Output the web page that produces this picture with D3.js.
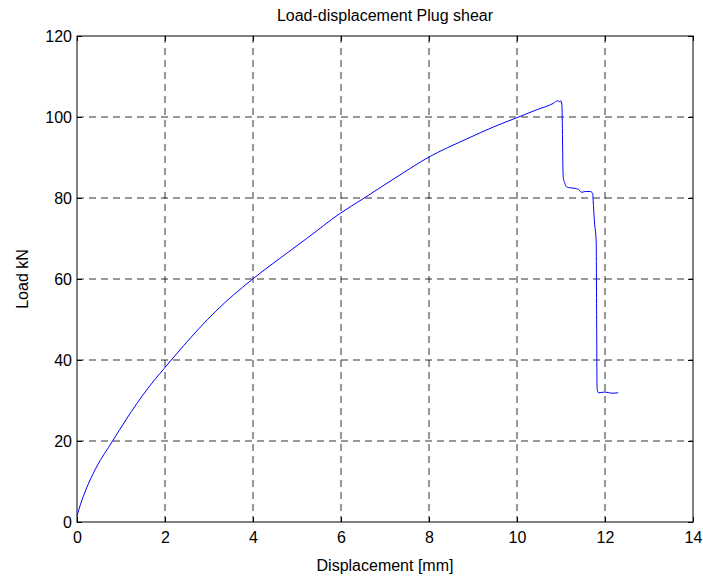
<!DOCTYPE html>
<html>
<head>
<meta charset="utf-8">
<script src="https://cdn.jsdelivr.net/npm/d3@7"></script>
<style>
  body { margin: 0; background: #fff; }
  svg text { font-family: "Liberation Sans", Arial, sans-serif; fill: #000; }
  .grid line { stroke: #000; stroke-width: 1; stroke-dasharray: 7,5; opacity: 0.8; }
</style>
</head>
<body>
<svg width="703" height="576"></svg>
<script>
// displacement [mm] and load [kN]
const displacement = [0, 0.04, 0.2, 0.43, 0.81, 1.11, 1.61, 1.98, 2.42, 3.14, 3.97, 4.61, 5.22,
  5.98, 6.5, 7.34, 7.98, 8.86, 9.5, 9.99, 10.45, 10.83, 10.92, 10.97, 11.0, 11.02, 11.05,
  11.09, 11.12, 11.17, 11.3, 11.4, 11.47, 11.55, 11.66, 11.72, 11.73, 11.76, 11.8, 11.81,
  11.82, 11.85, 12.0, 12.15, 12.3];
const load = [1.5, 3, 7.9, 13.3, 20, 25.2, 33, 37.9, 43.5, 51.9, 59.8, 65.1, 70.0,
  76.2, 79.8, 85.7, 90.0, 94.6, 97.7, 99.8, 101.8, 103.4, 104, 103.8, 104, 103, 85.3,
  83.5, 82.8, 82.6, 82.4, 82.1, 81.4, 81.6, 81.6, 81.2, 79.5, 74.1, 69.2, 50,
  33, 31.9, 32.1, 31.8, 31.9];

const xTicks = [0, 2, 4, 6, 8, 10, 12, 14];
const yTicks = [0, 20, 40, 60, 80, 100, 120];

const margin = { left: 77, right: 10, top: 36, bottom: 54 };
const svg = d3.select("svg");
const width = 703 - margin.left - margin.right;
const height = 576 - margin.top - margin.bottom;

const x = d3.scaleLinear().domain([0, 14]).range([0, width]);
const y = d3.scaleLinear().domain([0, 120]).range([height, 0]);

const g = svg.append("g").attr("transform", `translate(${margin.left},${margin.top})`);

// dashed grid
const grid = g.append("g").attr("class", "grid");
grid.selectAll(".vx")
  .data(xTicks.slice(1, -1))
  .enter()
  .append("line")
  .attr("x1", d => x(d)).attr("x2", d => x(d))
  .attr("y1", 0).attr("y2", height);
grid.selectAll(".hy")
  .data(yTicks.slice(1, -1))
  .enter()
  .append("line")
  .attr("x1", 0).attr("x2", width)
  .attr("y1", d => y(d)).attr("y2", d => y(d));

// axes with inward ticks
const fmt = d3.format("d");
g.append("g").attr("transform", `translate(0,${height})`)
  .call(d3.axisBottom(x).tickValues(xTicks).tickFormat(fmt).tickSizeInner(-5).tickSizeOuter(0).tickPadding(10));
g.append("g")
  .call(d3.axisLeft(y).tickValues(yTicks).tickFormat(fmt).tickSizeInner(-5).tickSizeOuter(0).tickPadding(5));
g.append("g")
  .call(d3.axisTop(x).tickValues(xTicks).tickFormat("").tickSizeInner(-5).tickSizeOuter(0));
g.append("g").attr("transform", `translate(${width},0)`)
  .call(d3.axisRight(y).tickValues(yTicks).tickFormat("").tickSizeInner(-5).tickSizeOuter(0));
g.selectAll(".domain").remove();
g.selectAll(".tick line").attr("stroke", "#000");
g.selectAll(".tick text").attr("font-size", 16).attr("fill", "#000");

g.append("rect")
  .attr("width", width).attr("height", height)
  .attr("fill", "none").attr("stroke", "#000").attr("stroke-width", 1);

// data line
const line = d3.line()
  .x((d, i) => x(displacement[i]))
  .y(d => y(d))
  .curve(d3.curveMonotoneX);
g.append("path")
  .datum(load)
  .attr("d", line)
  .attr("fill", "none")
  .attr("stroke", "#0000ff")
  .attr("stroke-width", 1);

// labels
svg.append("text")
  .attr("x", margin.left + width / 2).attr("y", 21)
  .attr("text-anchor", "middle").attr("font-size", 16)
  .text("Load-displacement Plug shear");
svg.append("text")
  .attr("x", margin.left + width / 2).attr("y", 571)
  .attr("text-anchor", "middle").attr("font-size", 16)
  .text("Displacement [mm]");
svg.append("text")
  .attr("transform", `translate(28,${margin.top + height / 2}) rotate(-90)`)
  .attr("text-anchor", "middle").attr("font-size", 16)
  .text("Load kN");
</script>
</body>
</html>
